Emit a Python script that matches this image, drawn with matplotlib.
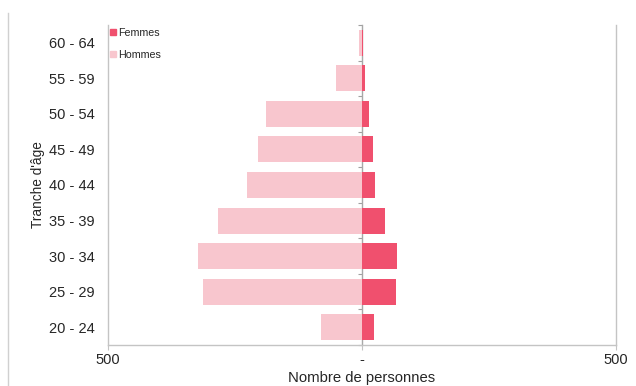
import matplotlib
matplotlib.use("Agg")
import matplotlib.pyplot as plt
from matplotlib.lines import Line2D
from matplotlib.ticker import FuncFormatter, FixedLocator
import numpy as np

plt.rcParams['font.family'] = ['Liberation Sans', 'DejaVu Sans']

categories = ["20 - 24", "25 - 29", "30 - 34", "35 - 39", "40 - 44",
              "45 - 49", "50 - 54", "55 - 59", "60 - 64"]
hommes = [80, 313, 322, 283, 226, 204, 188, 52, 6]
femmes = [24, 66, 69, 46, 26, 22, 13, 5, 1]
x_ticks = [-500, 0, 500]

col_f = '#F0506E'
col_h = '#F8C6CE'
grey = '#C4C4C4'
txt = '#262626'

W, H = 636, 386
fig = plt.figure(figsize=(W / 100, H / 100), dpi=100)
ax = fig.add_axes([108 / W, 1 - 345 / H, (616 - 108) / W, (345 - 25) / H])

y = np.arange(len(categories))
ax.barh(y, femmes, height=0.73, color=col_f, label='Femmes', zorder=2)
ax.barh(y, -np.array(hommes), height=0.73, color=col_h, label='Hommes', zorder=2)

ax.set_xlim(-500, 500)
ax.set_ylim(-0.5, len(categories) - 0.5)
ax.set_yticks(y)
ax.set_yticklabels(categories, fontsize=10.5, color=txt)
ax.tick_params(axis='y', length=0, pad=9.5)
ax.xaxis.set_major_locator(FixedLocator(x_ticks))
ax.xaxis.set_major_formatter(FuncFormatter(lambda v, p: '-' if v == 0 else f'{abs(int(v))}'))
ax.tick_params(axis='x', length=3.5, width=0.8, color=grey, labelsize=10.5,
               labelcolor=txt, pad=2.5)

for s in ['left', 'right', 'bottom']:
    ax.spines[s].set_color(grey)
    ax.spines[s].set_linewidth(1.0)
ax.spines['top'].set_visible(False)

ax.set_ylabel("Tranche d'âge", fontsize=9.8, color=txt, labelpad=3)
ax.set_xlabel("Nombre de personnes", fontsize=10.7, color=txt, labelpad=2.5)

# central category axis at x = 0
sec = ax.secondary_yaxis(0.5)
sec.set_alignment('left')
sec.yaxis.set_major_locator(FixedLocator(np.arange(len(categories) + 1) - 0.5))
sec.tick_params(axis='y', length=3, width=0.8, color='#A0A0A0', labelleft=False,
                labelright=False)
sec.spines['left'].set_color('#A8A8A8')
sec.spines['left'].set_linewidth(1.0)

handles = [Line2D([], [], marker='s', linestyle='none', markersize=4.5,
                  color=col_f, label='Femmes'),
           Line2D([], [], marker='s', linestyle='none', markersize=4.5,
                  color=col_h, label='Hommes')]
leg = ax.legend(handles=handles, loc='upper left',
                bbox_to_anchor=(110 / W, 1 - 28 / H), bbox_transform=fig.transFigure,
                frameon=False, fontsize=7.7, handlelength=0.6, handletextpad=0.15,
                labelspacing=1.1, borderpad=0, borderaxespad=0)
for t in leg.get_texts():
    t.set_color(txt)

# chart area border on the left
fig.add_artist(Line2D([8 / W, 8 / W], [0, 1 - 13 / H], transform=fig.transFigure,
                      color='#D0D0D0', linewidth=1.0))

fig.savefig('out.png', dpi=100)
